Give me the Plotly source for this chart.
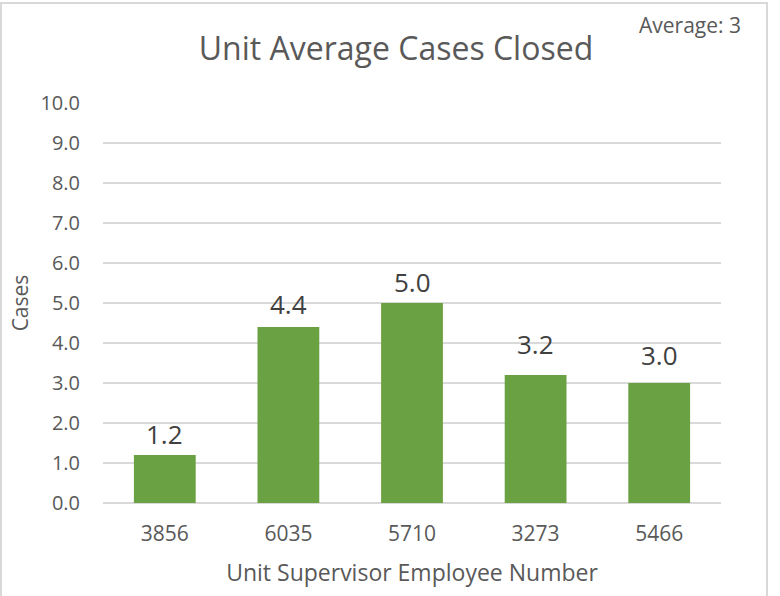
import plotly.graph_objects as go

# chart data
supervisors = ["3856", "6035", "5710", "3273", "5466"]
avg_cases = [1.2, 4.4, 5.0, 3.2, 3.0]
y_ticks = [0, 1, 2, 3, 4, 5, 6, 7, 8, 9, 10]

# extra lift (px) for each data label, as placed in the original
label_lift = [1, 3, 1, 11, 8]

FONT = "Open Sans"
GREY = "#595959"
BAR_GREEN = "#6AA143"

W, H = 780, 596
L, R, T, B = 103, 59, 103, 93
PW, PH = W - L - R, H - T - B

fig = go.Figure()
fig.add_trace(go.Bar(
    x=supervisors,
    y=avg_cases,
    marker=dict(color=BAR_GREEN, line=dict(width=0)),
    hoverinfo="x+y",
))

# data labels above each bar (x given as category index)
for i, val in enumerate(avg_cases):
    fig.add_annotation(
        x=i, y=val, text=f"{val:.1f}", showarrow=False,
        yanchor="bottom", yshift=label_lift[i],
        font=dict(family=FONT, size=26, color="#404040"),
    )

fig.add_annotation(
    xref="paper", yref="paper", x=(743 - L) / PW, y=(503 - 25) / PH,
    xanchor="right", yanchor="middle", text="Average: 3", showarrow=False,
    font=dict(family=FONT, size=21, color=GREY),
)

# outer chart border
fig.add_shape(
    type="rect", xref="paper", yref="paper",
    x0=-(L - 1) / PW, x1=(767 - L) / PW,
    y0=-0.3, y1=(503 - 3) / PH,
    line=dict(color="#D9D9D9", width=2), layer="below",
)

fig.update_layout(
    width=W, height=H,
    margin=dict(l=L, r=R, t=T, b=B),
    paper_bgcolor="white", plot_bgcolor="white",
    bargap=0.5,
    showlegend=False,
    font=dict(family=FONT, color=GREY),
    title=dict(
        text="Unit Average Cases Closed",
        x=396 / W, xanchor="center", y=1 - 49 / H, yanchor="middle",
        font=dict(family=FONT, size=32, color=GREY),
    ),
    xaxis=dict(
        type="category", range=[-0.5, len(supervisors) - 0.5],
        showgrid=False, showline=False, ticks="",
        tickfont=dict(family=FONT, size=21, color=GREY),
        ticklabelstandoff=16,
        title=dict(text="Unit Supervisor Employee Number",
                   font=dict(family=FONT, size=23, color=GREY), standoff=18),
    ),
    yaxis=dict(
        range=[0, 10], tickvals=y_ticks, tickformat=".1f",
        showgrid=True, gridcolor="#D9D9D9", gridwidth=1.5,
        zeroline=True, zerolinecolor="#D9D9D9", zerolinewidth=1.5,
        showline=False, ticks="",
        tickfont=dict(family=FONT, size=20, color=GREY),
        ticklabelstandoff=22,
        title=dict(text="Cases", font=dict(family=FONT, size=21, color=GREY), standoff=6),
    ),
)

# drop the browser's default body margin so the figure sits at the page origin
fig.write_html("out.html", config={"displayModeBar": False},
               post_script="document.body.style.margin='0';")
